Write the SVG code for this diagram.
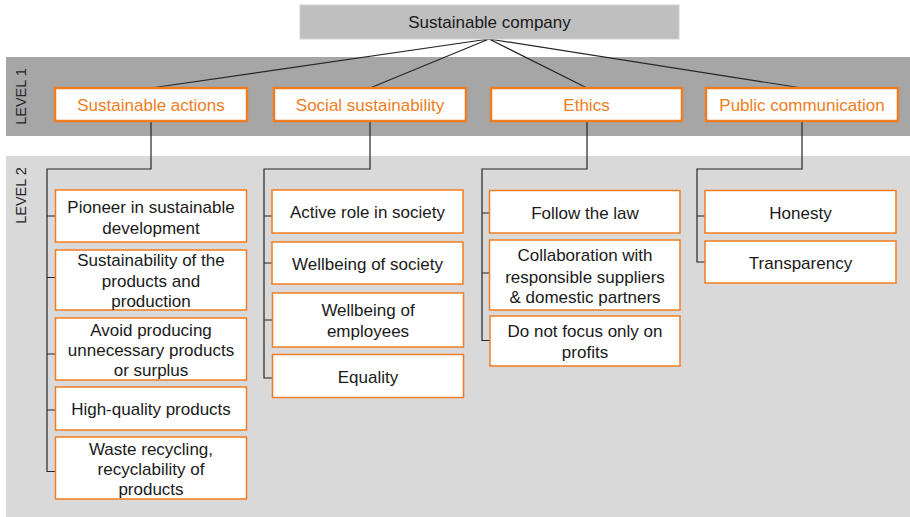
<svg xmlns="http://www.w3.org/2000/svg" width="910" height="517" viewBox="0 0 910 517">
<style>
text{font-family:"Liberation Sans",Arial,sans-serif;font-size:17px;text-anchor:middle;fill:#1a1a1a}
.l1 rect{fill:#fff;stroke:#ef7d22;stroke-width:2.5}
.l1 text{fill:#ef7d22}
.l2 rect{fill:#fff;stroke:#ef7d22;stroke-width:1.5}
.band text{font-size:14.5px;fill:#262626}
#connectors{fill:none;stroke:#262626;stroke-width:1.2}
</style>
<rect width="910" height="517" fill="#fff"/>
<g class="band">
<rect x="6" y="57" width="904" height="79" fill="#a6a6a6"/>
<rect x="6" y="156" width="904" height="361" fill="#d9d9d9"/>
<text transform="translate(26,96.5) rotate(-90)">LEVEL 1</text>
<text transform="translate(26,195.5) rotate(-90)">LEVEL 2</text>
</g>
<g id="connectors">
<path d="M489,39 L151,88 M489,39 L370,88 M489,39 L587,88 M489,39 L802,88"/>
<path d="M151,121 V169 H47 V471.5 H55 M47,216 H55 M47,277.5 H55 M47,354 H55 M47,410 H55"/>
<path d="M370,121 V169 H264 V378 H272 M264,216 H272 M264,263 H272 M264,320 H272"/>
<path d="M587,121 V169 H482 V340.5 H490 M482,213 H490 M482,273 H490"/>
<path d="M802,121 V169 H697 V262 H705 M697,216 H705"/>
</g>
<g id="top"><rect x="300" y="5" width="379" height="34" fill="#bfbfbf" stroke="#d0d0d0" stroke-width="1"/><text x="489.5" y="28">Sustainable company</text></g>
<g id="n-actions" class="l1"><rect x="55" y="88" width="192" height="33"/><text x="151" y="110.5">Sustainable actions</text></g>
<g id="n-social" class="l1"><rect x="274" y="88" width="192" height="33"/><text x="370" y="110.5">Social sustainability</text></g>
<g id="n-ethics" class="l1"><rect x="491" y="88" width="191" height="33"/><text x="586.5" y="110.5">Ethics</text></g>
<g id="n-public" class="l1"><rect x="706" y="88" width="192" height="33"/><text x="802" y="110.5">Public communication</text></g>

<g id="a1" class="l2"><rect x="55.5" y="190" width="191" height="52"/><text x="151" y="212.5">Pioneer in sustainable</text><text x="151" y="233.5">development</text></g>
<g id="a2" class="l2"><rect x="55.5" y="250" width="191" height="60"/><text x="151" y="266">Sustainability of the</text><text x="151" y="287">products and</text><text x="151" y="307">production</text></g>
<g id="a3" class="l2"><rect x="55.5" y="318" width="191" height="62"/><text x="151" y="336">Avoid producing</text><text x="151" y="356">unnecessary products</text><text x="151" y="376">or surplus</text></g>
<g id="a4" class="l2"><rect x="55.5" y="387" width="191" height="43"/><text x="151" y="415">High-quality products</text></g>
<g id="a5" class="l2"><rect x="55.5" y="437" width="191" height="62"/><text x="151" y="455">Waste recycling,</text><text x="151" y="475">recyclability of</text><text x="151" y="495">products</text></g>

<g id="s1" class="l2"><rect x="272" y="190" width="191" height="43"/><text x="367.5" y="218">Active role in society</text></g>
<g id="s2" class="l2"><rect x="272" y="242" width="191" height="42"/><text x="367.5" y="270">Wellbeing of society</text></g>
<g id="s3" class="l2"><rect x="272.5" y="293" width="191" height="54"/><text x="368" y="316">Wellbeing of</text><text x="368" y="337">employees</text></g>
<g id="s4" class="l2"><rect x="272.5" y="354.5" width="191" height="43"/><text x="368" y="382.5">Equality</text></g>

<g id="e1" class="l2"><rect x="489.5" y="190.5" width="190.5" height="42.5"/><text x="585" y="219">Follow the law</text></g>
<g id="e2" class="l2"><rect x="489.5" y="240" width="190.5" height="70"/><text x="585" y="261">Collaboration with</text><text x="585" y="282.5">responsible suppliers</text><text x="585" y="302.5">&amp; domestic partners</text></g>
<g id="e3" class="l2"><rect x="490" y="316" width="190" height="50"/><text x="585" y="337">Do not focus only on</text><text x="585" y="357.5">profits</text></g>

<g id="p1" class="l2"><rect x="705" y="190.5" width="191" height="42.5"/><text x="800.5" y="219">Honesty</text></g>
<g id="p2" class="l2"><rect x="705" y="241" width="191" height="42"/><text x="800.5" y="269">Transparency</text></g>
</svg>
